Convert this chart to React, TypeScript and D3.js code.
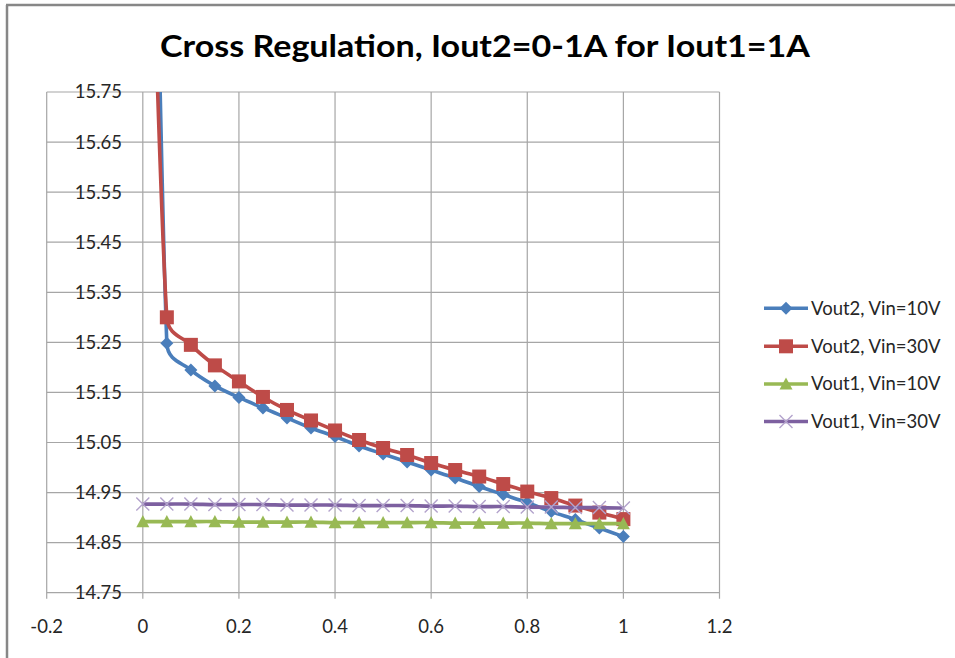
import React from "react";
import * as d3 from "d3";

const iout2 = [0, 0.05, 0.1, 0.15, 0.2, 0.25, 0.3, 0.35, 0.4, 0.45, 0.5, 0.55, 0.6, 0.65, 0.7, 0.75, 0.8, 0.85, 0.9, 0.95, 1];
const vout2Vin10 = [17.6, 15.248, 15.195, 15.163, 15.14, 15.119, 15.099, 15.079, 15.062, 15.043, 15.027, 15.011, 14.995, 14.979, 14.962, 14.946, 14.93, 14.912, 14.896, 14.879, 14.862];
const vout2Vin30 = [16.72, 15.3, 15.245, 15.204, 15.172, 15.141, 15.115, 15.094, 15.074, 15.055, 15.039, 15.025, 15.009, 14.995, 14.982, 14.967, 14.952, 14.939, 14.924, 14.91, 14.897];
const vout1Vin10 = [14.892, 14.892, 14.892, 14.892, 14.891, 14.891, 14.891, 14.891, 14.89, 14.89, 14.89, 14.89, 14.89, 14.889, 14.889, 14.889, 14.889, 14.888, 14.888, 14.888, 14.888];
const vout1Vin30 = [14.927, 14.927, 14.927, 14.926, 14.926, 14.926, 14.925, 14.925, 14.925, 14.924, 14.924, 14.924, 14.923, 14.923, 14.922, 14.922, 14.921, 14.921, 14.92, 14.92, 14.919];

const xTicks = [-0.2, 0, 0.2, 0.4, 0.6, 0.8, 1, 1.2];
const yTicks = [14.75, 14.85, 14.95, 15.05, 15.15, 15.25, 15.35, 15.45, 15.55, 15.65, 15.75];
const seriesNames = ["Vout2, Vin=10V", "Vout2, Vin=30V", "Vout1, Vin=10V", "Vout1, Vin=30V"];
const title = "Cross Regulation, Iout2=0-1A for Iout1=1A";

const W = 955, H = 658;
const PL = 46.7, PR = 719.5, PT = 92, PB = 592.7;
const FONT = "Lato, 'Open Sans', sans-serif";

// Spreadsheet-style smoothing: Bezier with chord-parallel tangents (1/6 of chord),
// tangent length limited relative to the adjacent segment.
function smoothCurve(context: any) {
  let pts: [number, number][] = [];
  return {
    areaStart() {},
    areaEnd() {},
    lineStart() {
      pts = [];
    },
    point(x: number, y: number) {
      pts.push([x, y]);
    },
    lineEnd() {
      const n = pts.length;
      if (!n) return;
      context.moveTo(pts[0][0], pts[0][1]);
      if (n === 1) return;
      const tan = (i: number): [number, number] => {
        const a = pts[Math.max(0, i - 1)], b = pts[Math.min(n - 1, i + 1)];
        return [(b[0] - a[0]) / 6, (b[1] - a[1]) / 6];
      };
      const seg = (i: number) => Math.hypot(pts[i + 1][0] - pts[i][0], pts[i + 1][1] - pts[i][1]);
      const lim = (t: [number, number], L: number): [number, number] => {
        const len = Math.hypot(t[0], t[1]);
        const mx = 0.5 * L;
        if (len > mx && len > 0) return [(t[0] * mx) / len, (t[1] * mx) / len];
        return t;
      };
      for (let i = 0; i < n - 1; i++) {
        const L = seg(i);
        const t0 = lim(tan(i), L);
        const t1 = lim(tan(i + 1), L);
        context.bezierCurveTo(
          pts[i][0] + t0[0], pts[i][1] + t0[1],
          pts[i + 1][0] - t1[0], pts[i + 1][1] - t1[1],
          pts[i + 1][0], pts[i + 1][1]
        );
      }
    },
  };
}

type Mk = "diamond" | "square" | "triangle" | "x";
const styles: { color: string; marker: Mk; mcolor: string }[] = [
  { color: "#4A7EBB", marker: "diamond", mcolor: "#4A7EBB" },
  { color: "#BE4B48", marker: "square", mcolor: "#BE4B48" },
  { color: "#98B954", marker: "triangle", mcolor: "#98B954" },
  { color: "#7D60A0", marker: "x", mcolor: "#B3A3CC" },
];

function Marker({ type, x, y, c }: { type: Mk; x: number; y: number; c: string }) {
  if (type === "diamond") {
    const r = 6.5;
    return <path d={`M${x},${y - r}L${x + r},${y}L${x},${y + r}L${x - r},${y}Z`} fill={c} />;
  }
  if (type === "square") {
    const r = 7;
    return <rect x={x - r} y={y - r} width={2 * r} height={2 * r} fill={c} />;
  }
  if (type === "triangle") {
    const r = 6.5;
    return <path d={`M${x},${y - r}L${x + r},${y + r * 0.85}L${x - r},${y + r * 0.85}Z`} fill={c} />;
  }
  const r = 6.5;
  return (
    <path d={`M${x - r},${y - r}L${x + r},${y + r}M${x - r},${y + r}L${x + r},${y - r}`} stroke={c} strokeWidth={1.4} fill="none" />
  );
}

export default function App() {
  const x = d3.scaleLinear().domain([-0.2, 1.2]).range([PL, PR]);
  const y = d3.scaleLinear().domain([14.75, 15.75]).range([PB, PT]);
  const all = [vout2Vin10, vout2Vin30, vout1Vin10, vout1Vin30];
  const line = d3
    .line<number>()
    .x((_, i) => x(iout2[i]))
    .y((d) => y(d))
    .curve(smoothCurve as any);
  const legendY = [308.3, 346.3, 384, 421.5];

  return (
    <div style={{ position: "absolute", left: 0, top: 0 }}>
      <svg width={W} height={H} style={{ display: "block", background: "#fff" }}>
        <defs>
          <clipPath id="plotclip">
            <rect x={PL} y={PT} width={PR - PL} height={PB - PT} />
          </clipPath>
        </defs>
        <line x1={6} y1={5} x2={W} y2={5} stroke="#878787" strokeWidth={2.5} />
        <line x1={7} y1={5} x2={7} y2={H} stroke="#878787" strokeWidth={2.5} />
        <text x={485} y={57} textAnchor="middle" fontFamily={FONT} fontWeight={700} fontSize={30} fill="#000"
          textLength={650} lengthAdjust="spacingAndGlyphs">
          {title}
        </text>
        {yTicks.map((t) => (
          <line key={"gy" + t} x1={PL} x2={PR} y1={y(t)} y2={y(t)} stroke="#A6A6A6" strokeWidth={1.2} />
        ))}
        {xTicks.map((t) => (
          <line key={"gx" + t} x1={x(t)} x2={x(t)} y1={PT} y2={PB + 6} stroke="#A6A6A6" strokeWidth={1.2} />
        ))}
        <g clipPath="url(#plotclip)">
          {all.map((s, k) => (
            <g key={"s" + k}>
              <path d={line(s) || ""} fill="none" stroke={styles[k].color} strokeWidth={3.6} strokeLinejoin="round" />
              {s.map((v, i) => (
                <Marker key={i} type={styles[k].marker} x={x(iout2[i])} y={y(v)} c={styles[k].mcolor} />
              ))}
            </g>
          ))}
        </g>
        {yTicks.map((t) => (
          <text key={"ly" + t} x={122} y={y(t)} dy="0.35em" textAnchor="end" fontFamily={FONT} fontSize={18.5} fill="#262626">
            {t.toFixed(2)}
          </text>
        ))}
        {xTicks.map((t) => (
          <text key={"lx" + t} x={x(t)} y={627} dy="0.35em" textAnchor="middle" fontFamily={FONT} fontSize={18.5} fill="#262626">
            {String(Math.round(t * 10) / 10)}
          </text>
        ))}
        {seriesNames.map((n, k) => (
          <g key={"lg" + k}>
            <line x1={764} x2={808} y1={legendY[k]} y2={legendY[k]} stroke={styles[k].color} strokeWidth={3.6} />
            <Marker type={styles[k].marker} x={786} y={legendY[k]} c={styles[k].mcolor} />
            <text x={811} y={legendY[k]} dy="0.35em" fontFamily={FONT} fontSize={18.5} fill="#262626">
              {n}
            </text>
          </g>
        ))}
      </svg>
    </div>
  );
}
